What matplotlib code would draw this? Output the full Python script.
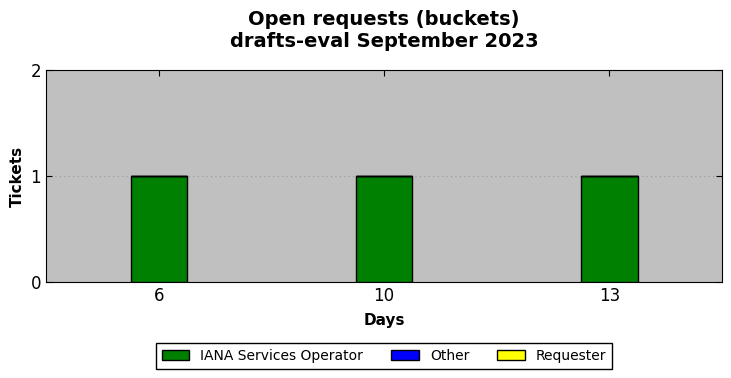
import matplotlib

matplotlib.use("Agg")

import matplotlib.pyplot as plt
import numpy as np

DAYS = ["6", "10", "13"]
IANA_SERVICES_OPERATOR = [1, 1, 1]
OTHER = [0, 0, 0]
REQUESTER = [0, 0, 0]

SERIES = [
    ("IANA Services Operator", IANA_SERVICES_OPERATOR, "green"),
    ("Other", OTHER, "blue"),
    ("Requester", REQUESTER, "yellow"),
]


def main():
    fig = plt.figure(figsize=(7.31, 3.78), dpi=100)
    ax = fig.add_axes([46 / 731, 1 - 282 / 378, 676 / 731, 212 / 378])
    ax.set_facecolor("#c0c0c0")

    x = np.arange(len(DAYS))
    bottom = np.zeros(len(DAYS))
    for label, values, color in SERIES:
        ax.bar(x, values, width=0.25, bottom=bottom, color=color,
               edgecolor="black", linewidth=1.0, label=label, zorder=3)
        bottom += np.array(values)

    ax.set_xlim(-0.5, len(DAYS) - 0.5)
    ax.set_ylim(0, 2)
    ax.set_xticks(x)
    ax.set_xticklabels(DAYS)
    ax.set_yticks([0, 1, 2])
    ax.tick_params(direction="in", top=True, right=True, labelsize=12,
                   length=4, width=0.8)
    ax.yaxis.grid(True, linestyle=(0, (1, 3)), color="#999999",
                  linewidth=0.8, zorder=0)
    ax.set_axisbelow(True)

    ax.set_xlabel("Days", fontsize=11, fontweight="bold", labelpad=6)
    ax.set_ylabel("Tickets", fontsize=11, fontweight="bold")
    ax.set_title("Open requests (buckets)\ndrafts-eval September 2023",
                 fontsize=14, fontweight="bold", pad=16.5)

    ax.legend(loc="upper center", bbox_to_anchor=(0.5, -0.29), ncol=3,
              fontsize=10, fancybox=False, edgecolor="black", framealpha=1,
              handlelength=2.0, columnspacing=2.0, borderaxespad=0)

    fig.savefig("out.png", dpi=100)
    plt.close(fig)


if __name__ == "__main__":
    main()
